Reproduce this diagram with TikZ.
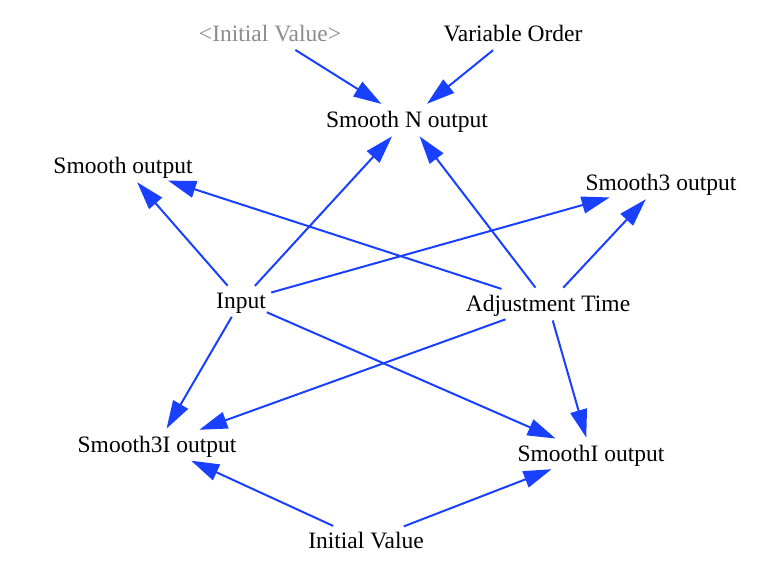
\documentclass[tikz,border=0pt]{standalone}
\usepackage{fontspec}
\setmainfont{Liberation Serif}
\usetikzlibrary{shapes.geometric,arrows.meta}
\definecolor{edgeblue}{RGB}{26,64,255}
\definecolor{ghost}{RGB}{140,140,140}
\begin{document}
\begin{tikzpicture}[x=1pt,y=-1pt,
  var/.style={ellipse,inner sep=0pt,font=\fontsize{23.5}{28}\selectfont,text height=19pt,text depth=4pt},
  link/.style={draw=edgeblue,line width=2pt,-{Triangle[length=28pt,width=17pt,fill=edgeblue]}}]
\useasboundingbox (0,0) rectangle (774,572);
\node[var,text=ghost] (iv0) at (270,34) {<Initial Value>};
\node[var] (vo) at (513,34) {Variable Order};
\node[var] (sn) at (407,120) {Smooth N output};
\node[var] (so) at (123,166) {Smooth output};
\node[var] (s3) at (661,183) {Smooth3 output};
\node[var] (in) at (241,301) {Input};
\node[var] (at) at (548,304) {Adjustment Time};
\node[var] (s3i) at (157,445) {Smooth3I output};
\node[var] (si) at (591,454) {SmoothI output};
\node[var] (iv) at (366,541) {Initial Value};
\draw[link] (iv0) -- (sn);
\draw[link] (vo) -- (sn);
\draw[link] (in) -- (sn);
\draw[link] (at) -- (sn);
\draw[link] (in) -- (so);
\draw[link] (at) -- (so);
\draw[link] (in) -- (s3);
\draw[link] (at) -- (s3);
\draw[link] (in) -- (s3i);
\draw[link] (at) -- (s3i);
\draw[link] (in) -- (si);
\draw[link] (at) -- (si);
\draw[link] (iv) -- (s3i);
\draw[link] (iv) -- (si);
\end{tikzpicture}
\end{document}
